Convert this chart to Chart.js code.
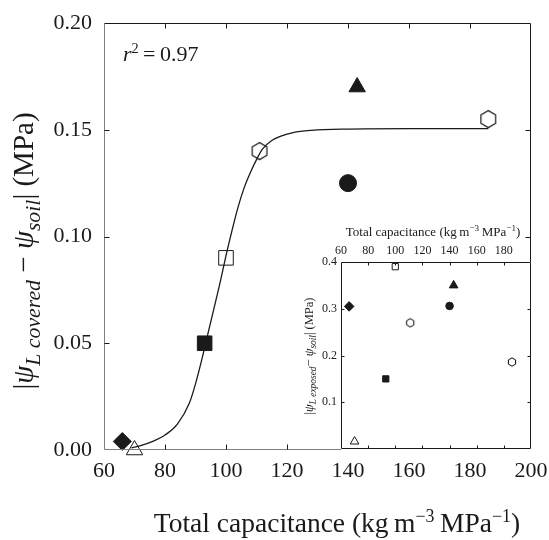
<!DOCTYPE html>
<html>
<head>
<meta charset="utf-8">
<script src="https://cdn.jsdelivr.net/npm/chart.js@4.4.0/dist/chart.umd.min.js"></script>
<style>
  body { margin: 0; background: #fff; }
  #wrap { position: relative; width: 549px; height: 540px; }
  #mainChart { position: absolute; left: 0; top: 0; }
  #insetChart { position: absolute; left: 290px; top: 210px; }
</style>
</head>
<body>
<div id="wrap">
  <canvas id="mainChart" width="549" height="540"></canvas>
  <canvas id="insetChart" width="259" height="245"></canvas>
</div>
<script>
// === Data ===
const capacitance = [66, 70, 93, 100, 111, 140, 143, 186];
const coveredDiff = [0.004, 0.0, 0.05, 0.09, 0.14, 0.125, 0.17, 0.155];
const exposedDiff = [0.305, 0.016, 0.15, 0.39, 0.27, 0.306, 0.35, 0.186];

// fitted curve
const fitX = [69, 72, 76, 80, 84, 88, 90, 92, 94, 96, 98, 100, 102, 104, 106, 108, 110, 112, 115, 118, 122, 128, 140, 160, 186];
const fitY = [0.001, 0.002, 0.004, 0.007, 0.012, 0.022, 0.031, 0.042, 0.054, 0.066, 0.078, 0.091, 0.103, 0.114, 0.123, 0.130, 0.136, 0.141, 0.145, 0.147, 0.1487, 0.1497, 0.1503, 0.1505, 0.1505];

const xTicks = [60, 80, 100, 120, 140, 160, 180, 200];
const mainYTicks = [0, 0.05, 0.10, 0.15, 0.20];
const insetYTicks = [0.1, 0.2, 0.3, 0.4];
const r2Value = "0.97";

// marker per species (same order as capacitance)
const markerShape = ['rectRot', 'triangle', 'rect', 'rect', 'hexagon', 'circle', 'triangle', 'hexagon'];
const markerFilled = [true, false, true, false, false, true, true, false];

const FONT = '"Liberation Serif", "Times New Roman", serif';
const INK = '#1a1a1a';

// === helpers ===
function hexCanvas(R, lw) {
    const s = Math.ceil(R * 2 + 3);
    const c = document.createElement('canvas');
    c.width = s; c.height = s;
    const g = c.getContext('2d');
    g.strokeStyle = '#000';
    g.lineWidth = lw;
    g.beginPath();
    for (let k = 0; k < 6; k++) {
        const a = Math.PI / 2 + k * Math.PI / 3;
        const px = s / 2 + R * Math.cos(a), py = s / 2 - R * Math.sin(a);
        if (k === 0) g.moveTo(px, py); else g.lineTo(px, py);
    }
    g.closePath();
    g.stroke();
    return c;
}

// parts: [text, italic, scale, baselineShift(em)]
function drawRich(ctx, parts, x, y, size, opts = {}) {
    ctx.save();
    ctx.translate(x, y);
    if (opts.rotate) ctx.rotate(-Math.PI / 2);
    const fontOf = p => `${p[1] ? 'italic ' : ''}${(size * p[2]).toFixed(1)}px ${FONT}`;
    let total = 0;
    parts.forEach(p => { ctx.font = fontOf(p); total += ctx.measureText(p[0]).width; });
    let cx = opts.align === 'left' ? 0 : -total / 2;
    ctx.textBaseline = 'alphabetic';
    ctx.textAlign = 'left';
    ctx.fillStyle = INK;
    parts.forEach(p => {
        ctx.font = fontOf(p);
        ctx.fillText(p[0], cx, p[3] * size);
        cx += ctx.measureText(p[0]).width;
    });
    ctx.restore();
}

function drawFrame(chart, tickLen, greyLeftBottom) {
    const { ctx, chartArea: a, scales: { x, y } } = chart;
    const L = Math.round(a.left) + 0.5, R = Math.round(a.right) - 0.5;
    const T = Math.round(a.top) + 0.5, B = Math.round(a.bottom) - 0.5;
    ctx.save();
    ctx.lineWidth = 1;
    ctx.strokeStyle = greyLeftBottom ? '#808080' : INK;
    ctx.beginPath();
    ctx.moveTo(L, T); ctx.lineTo(L, B); ctx.lineTo(R, B);
    ctx.stroke();
    ctx.strokeStyle = INK;
    ctx.beginPath();
    ctx.moveTo(L, T); ctx.lineTo(R, T); ctx.lineTo(R, B);
    ctx.stroke();
    // inward ticks on all four sides
    ctx.beginPath();
    xTicks.slice(1, -1).forEach(v => {
        const px = Math.round(x.getPixelForValue(v)) + 0.5;
        ctx.moveTo(px, B); ctx.lineTo(px, B - tickLen);
        ctx.moveTo(px, T); ctx.lineTo(px, T + tickLen);
    });
    y.ticks.forEach(t => {
        if (t.value <= y.min || t.value >= y.max) return;
        const py = Math.round(y.getPixelForValue(t.value)) + 0.5;
        ctx.moveTo(L, py); ctx.lineTo(L + tickLen, py);
        ctx.moveTo(R, py); ctx.lineTo(R - tickLen, py);
    });
    ctx.stroke();
    ctx.restore();
}

function scatterData(ys) {
    return capacitance.map((v, i) => ({ x: v, y: ys[i] }));
}

// no automatic label overflow padding, layout padding alone sets the plot box
function fixX(h) {
    return s => { s.height = h; s.paddingLeft = 0; s.paddingRight = 0; };
}
function fixY(w) {
    return s => { s.width = w; s.paddingTop = 0; s.paddingBottom = 0; };
}

const hexMain = hexCanvas(8.5, 1.1);
const hexInset = hexCanvas(4.2, 1);
const mainSize = { rectRot: 9, triangle: 9.5, rect: 10.3, circle: 8.5, hexagon: 8 };
const insetSize = { rectRot: 4.8, triangle: 5, rect: 4.4, circle: 3.8, hexagon: 4 };

// === Main panel ===
const mainDecor = {
    id: 'mainDecor',
    afterDraw(chart) {
        const ctx = chart.ctx;
        drawFrame(chart, 5, true);
        // r^2 annotation
        drawRich(ctx, [
            ['r', true, 1, 0],
            ['2', false, 0.65, -0.38],
            ['\u2009=\u2009' + r2Value, false, 1, 0]
        ], 123, 61, 22, { align: 'left' });
        // x title
        drawRich(ctx, [
            ['Total capacitance (kg\u2009m', false, 1, 0],
            ['\u22123', false, 0.65, -0.38],
            ['\u2009MPa', false, 1, 0],
            ['\u22121', false, 0.65, -0.38],
            [')', false, 1, 0]
        ], 337, 532, 27.5);
        // y title
        drawRich(ctx, [
            ['|', false, 1, 0],
            ['\u03C8', true, 1, 0],
            ['L covered', true, 0.75, 0.25],
            [' \u2212 ', false, 1, 0],
            ['\u03C8', true, 1, 0],
            ['soil', true, 0.75, 0.25],
            ['|', false, 1, 0],
            [' (MPa)', false, 1, 0]
        ], 33, 251, 29, { rotate: true });
    }
};

new Chart(document.getElementById('mainChart'), {
    type: 'scatter',
    data: {
        datasets: [
            {
                type: 'line',
                data: fitX.map((v, i) => ({ x: v, y: fitY[i] })),
                borderColor: INK,
                borderWidth: 1.3,
                pointRadius: 0,
                fill: false,
                clip: false,
                cubicInterpolationMode: 'monotone'
            },
            {
                data: scatterData(coveredDiff),
                pointStyle: markerShape.map(s => s === 'hexagon' ? hexMain : s),
                pointRadius: markerShape.map(s => mainSize[s]),
                backgroundColor: markerFilled.map(f => f ? INK : 'rgba(0,0,0,0)'),
                borderColor: INK,
                borderWidth: 1,
                clip: false
            }
        ]
    },
    options: {
        responsive: false,
        animation: false,
        events: [],
        layout: { padding: { top: 23, right: 18, left: 0, bottom: 0 } },
        plugins: { legend: { display: false }, tooltip: { enabled: false } },
        scales: {
            x: {
                type: 'linear', min: 60, max: 200,
                afterBuildTicks: s => { s.ticks = xTicks.map(v => ({ value: v })); },
                afterFit: fixX(90),
                grid: { display: false, drawTicks: false },
                border: { display: false },
                ticks: { font: { family: FONT, size: 22 }, color: INK, padding: 8, maxRotation: 0, autoSkip: false }
            },
            y: {
                min: 0, max: 0.2,
                afterBuildTicks: s => { s.ticks = mainYTicks.map(v => ({ value: v })); },
                afterFit: fixY(104),
                grid: { display: false, drawTicks: false },
                border: { display: false },
                ticks: {
                    font: { family: FONT, size: 22 }, color: INK, padding: 12,
                    callback: v => v.toFixed(2)
                }
            }
        }
    },
    plugins: [mainDecor]
});

// === Inset panel ===
const insetDecor = {
    id: 'insetDecor',
    beforeDraw(chart) {
        const { ctx, chartArea: a } = chart;
        ctx.save();
        ctx.fillStyle = '#fff';
        ctx.fillRect(a.left, a.top, a.right - a.left, a.bottom - a.top + 1);
        ctx.restore();
    },
    afterDraw(chart) {
        const ctx = chart.ctx;
        drawFrame(chart, 3, false);
        drawRich(ctx, [
            ['Total capacitance (kg\u2009m', false, 1, 0],
            ['\u22123', false, 0.7, -0.38],
            ['\u2009MPa', false, 1, 0],
            ['\u22121', false, 0.7, -0.38],
            [')', false, 1, 0]
        ], 143, 26, 13);
        drawRich(ctx, [
            ['|', false, 1, 0],
            ['\u03C8', true, 1, 0],
            ['L exposed', true, 0.75, 0.25],
            ['\u2212 ', false, 1, 0],
            ['\u03C8', true, 1, 0],
            ['soil', true, 0.75, 0.25],
            ['|', false, 1, 0],
            [' (MPa)', false, 1, 0]
        ], 23, 146, 12.5, { rotate: true });
    }
};

new Chart(document.getElementById('insetChart'), {
    type: 'scatter',
    data: {
        datasets: [{
            data: scatterData(exposedDiff),
            pointStyle: markerShape.map(s => s === 'hexagon' ? hexInset : s),
            pointRadius: markerShape.map(s => insetSize[s]),
            backgroundColor: markerFilled.map(f => f ? INK : 'rgba(0,0,0,0)'),
            borderColor: INK,
            borderWidth: 1,
            clip: false
        }]
    },
    options: {
        responsive: false,
        animation: false,
        events: [],
        layout: { padding: { top: 0, right: 18, left: 0, bottom: 5 } },
        plugins: { legend: { display: false }, tooltip: { enabled: false } },
        scales: {
            x: {
                type: 'linear', position: 'top', min: 60, max: 200,
                afterBuildTicks: s => { s.ticks = xTicks.slice(0, -1).map(v => ({ value: v })); },
                afterFit: fixX(52),
                grid: { display: false, drawTicks: false },
                border: { display: false },
                ticks: { font: { family: FONT, size: 12 }, color: INK, padding: 4, maxRotation: 0, autoSkip: false }
            },
            y: {
                min: 0, max: 0.4,
                afterBuildTicks: s => { s.ticks = insetYTicks.map(v => ({ value: v })); },
                afterFit: fixY(51),
                grid: { display: false, drawTicks: false },
                border: { display: false },
                ticks: {
                    font: { family: FONT, size: 12 }, color: INK, padding: 4,
                    callback: v => v.toFixed(1)
                }
            }
        }
    },
    plugins: [insetDecor]
});
</script>
</body>
</html>
